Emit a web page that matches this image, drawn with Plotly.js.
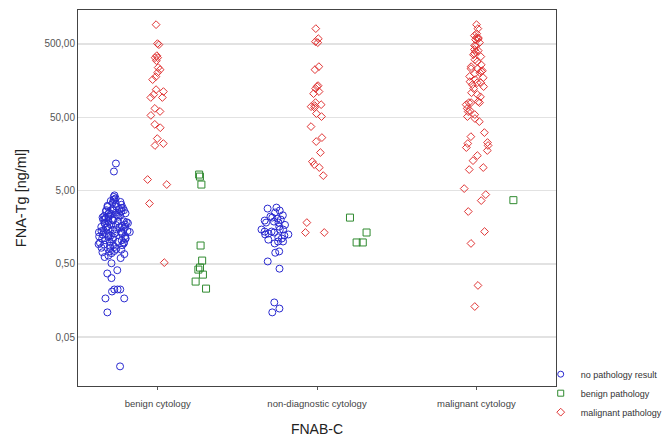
<!DOCTYPE html>
<html>
<head>
<meta charset="utf-8">
<script src="https://cdn.plot.ly/plotly-3.0.1.min.js"></script>
<style>html,body{margin:0;padding:0;background:#fff;}#chart{width:667px;height:437px;}</style>
</head>
<body>
<div id="chart"></div>
<script>
// Categories
var categories = ["benign cytology", "non-diagnostic cytology", "malignant cytology"];
var seriesNames = ["no pathology result", "benign pathology", "malignant pathology"];
var yTickVals = [0.05, 0.5, 5, 50, 500];
var yTickText = ["0,05", "0,50", "5,00", "50,00", "500,00"];

// no pathology result (blue circles)
var noPathBenignCyt = [11.7, 9.1,
  4.3, 4.1, 3.9, 3.8, 3.6, 3.5, 3.4, 3.3, 3.2, 3.1, 3.0, 3.0, 2.9, 2.8, 2.8, 2.7, 2.7, 2.6, 2.6, 2.5,
  2.5, 2.4, 2.4, 2.35, 2.3, 2.3, 2.2, 2.2, 2.15, 2.1, 2.1, 2.05, 2.0, 2.0, 1.95, 1.9, 1.9, 1.85, 1.8,
  1.8, 1.75, 1.7, 1.7, 1.65, 1.6, 1.6, 1.55, 1.5, 1.5, 1.48, 1.45, 1.4, 1.4, 1.38, 1.35, 1.3, 1.3,
  1.28, 1.25, 1.2, 1.2, 1.18, 1.15, 1.1, 1.1, 1.08, 1.05, 1.0, 1.0, 0.98, 0.95, 0.92, 0.9, 0.9, 0.88,
  0.85, 0.82, 0.8, 0.78, 0.75, 0.72, 0.7, 0.68, 0.65, 0.62, 0.6, 3.7, 2.65, 1.72, 1.33, 1.12, 0.97,
  2.25, 1.62, 1.42, 1.22, 0.83, 2.9, 1.9, 1.05, 0.74, 2.45, 1.58, 0.93, 1.36, 1.16,
  0.51, 0.41, 0.37, 0.32, 0.224, 0.224, 0.224, 0.21, 0.169, 0.169, 0.109, 0.020];
var noPathNondiagCyt = [2.84, 2.93, 2.21, 2.67, 2.51, 1.89, 1.83, 2.08, 2.01, 1.95, 2.14, 1.83, 1.47,
  1.38, 1.30, 1.26, 1.61, 1.47, 1.38, 1.47, 1.34, 1.26, 1.22, 1.07, 1.01, 1.01, 1.11, 0.95, 0.74,
  0.71, 0.54, 0.43, 0.149, 0.123, 0.109, 2.3, 1.7, 1.15];
var noPathMalignCyt = [];

// benign pathology (green squares)
var benignBenignCyt = [7.76, 8.27, 6.04, 0.89, 0.555, 0.445, 0.418, 0.357, 0.287, 0.230];
var benignNondiagCyt = [2.14, 1.34, 0.98, 0.98];
var benignMalignCyt = [3.7];

// malignant pathology (red diamonds)
var malignBenignCyt = [916, 489, 505, 325, 346, 325, 296, 238, 223, 203, 179, 163, 112, 119, 102, 93,
  93, 66, 60, 53, 40, 36, 25.6, 21.9, 20.6, 7.07, 6.04, 3.33, 0.52];
var malignNondiagCyt = [809, 590, 537, 521, 223, 245, 131, 123, 135, 112, 105, 69.8, 67.7, 72.1, 79.2,
  74.3, 51.1, 56.1, 37.3, 26.4, 23.3, 16.5, 12.4, 11.3, 10.3, 8.0, 1.83, 1.34, 1.34];
var malignMalignCyt = [916, 809, 691, 649, 609, 609, 572, 590, 521, 474, 474, 393, 369, 405, 357, 336,
  305, 287, 230, 203, 197, 245, 230, 210, 216, 173, 163, 153, 148, 123, 139, 131, 148, 108, 102, 81.7,
  79.2, 79.2, 79.2, 74.3, 59.7, 61.6, 54.3, 51.1, 48.0, 43.6, 27.2, 30.9, 22.6, 21.9, 19.3, 20.6, 17.6,
  15.0, 12.8, 10.3, 9.67, 5.32, 4.41, 3.65, 2.59, 1.38, 0.95, 0.254, 0.131, 420, 260, 180, 95, 66];

var colors = {blue: "#2a2ad0", green: "#2f8a2f", red: "#e03434"};

function build(arrs) {
  var x = [], y = [];
  arrs.forEach(function (a, i) {
    a.forEach(function (v) { x.push(categories[i]); y.push(v); });
  });
  return {x: x, y: y};
}

function boxTrace(arrs, name, symbol, color, size, jitter) {
  var d = build(arrs);
  return {
    type: "box", x: d.x, y: d.y, name: name, showlegend: false,
    boxpoints: "all", jitter: jitter, pointpos: 0,
    fillcolor: "rgba(0,0,0,0)", line: {width: 0, color: "rgba(0,0,0,0)"},
    marker: {symbol: symbol, size: size, color: color, line: {width: 1, color: color}},
    hoverinfo: "y"
  };
}

function legendTrace(name, symbol, color, size, rank) {
  return {
    type: "scatter", mode: "markers", x: [null], y: [null], name: name, legendrank: rank,
    marker: {symbol: symbol, size: size, color: color, line: {width: 1, color: color}}
  };
}

var traces = [
  boxTrace([noPathBenignCyt, noPathNondiagCyt, noPathMalignCyt], seriesNames[0], "circle-open", colors.blue, 7, 1),
  boxTrace([malignBenignCyt, malignNondiagCyt, malignMalignCyt], seriesNames[2], "diamond-open", colors.red, 6, 0.75),
  boxTrace([benignBenignCyt, benignNondiagCyt, benignMalignCyt], seriesNames[1], "square-open", colors.green, 7, 0.6),
  legendTrace(seriesNames[0], "circle-open", colors.blue, 6, 1),
  legendTrace(seriesNames[1], "square-open", colors.green, 6, 2),
  legendTrace(seriesNames[2], "diamond-open", colors.red, 6, 3)
];

var layout = {
  width: 667, height: 437,
  margin: {l: 78, r: 111, t: 10, b: 51, pad: 0, autoexpand: false},
  paper_bgcolor: "#fff", plot_bgcolor: "#fff",
  font: {family: "Liberation Sans, Arial, sans-serif", color: "#444"},
  boxmode: "group", boxgap: 0.19, boxgroupgap: 0.2,
  showlegend: true,
  legend: {x: 0.968, y: 0.07, xanchor: "left", yanchor: "top", bgcolor: "rgba(0,0,0,0)",
    font: {size: 9, color: "#333"}, itemwidth: 30, tracegroupgap: 0},
  xaxis: {
    type: "category", categoryorder: "array", categoryarray: categories, automargin: false,
    range: [-0.5, 2.5], showgrid: false, zeroline: false,
    showline: true, linecolor: "#444", linewidth: 1, mirror: true,
    ticks: "outside", ticklen: 3, tickcolor: "#555", ticklabelstandoff: 6,
    tickfont: {size: 9.5, color: "#444"},
    title: {text: "FNAB-C", font: {size: 14, color: "#222"}, standoff: 20}
  },
  yaxis: {
    type: "log", range: [Math.log10(0.0108), Math.log10(1452)], automargin: false,
    tickvals: yTickVals, ticktext: yTickText,
    showgrid: true, gridcolor: "#e2e2e2", gridwidth: 1.5, zeroline: false,
    showline: true, linecolor: "#444", linewidth: 1, mirror: true,
    ticks: "", tickfont: {size: 10, color: "#555"},
    title: {text: "FNA-Tg [ng/ml]", font: {size: 14.5, color: "#222"}, standoff: 14}
  }
};

Plotly.newPlot("chart", traces, layout, {displayModeBar: false, staticPlot: true});
</script>
</body>
</html>
